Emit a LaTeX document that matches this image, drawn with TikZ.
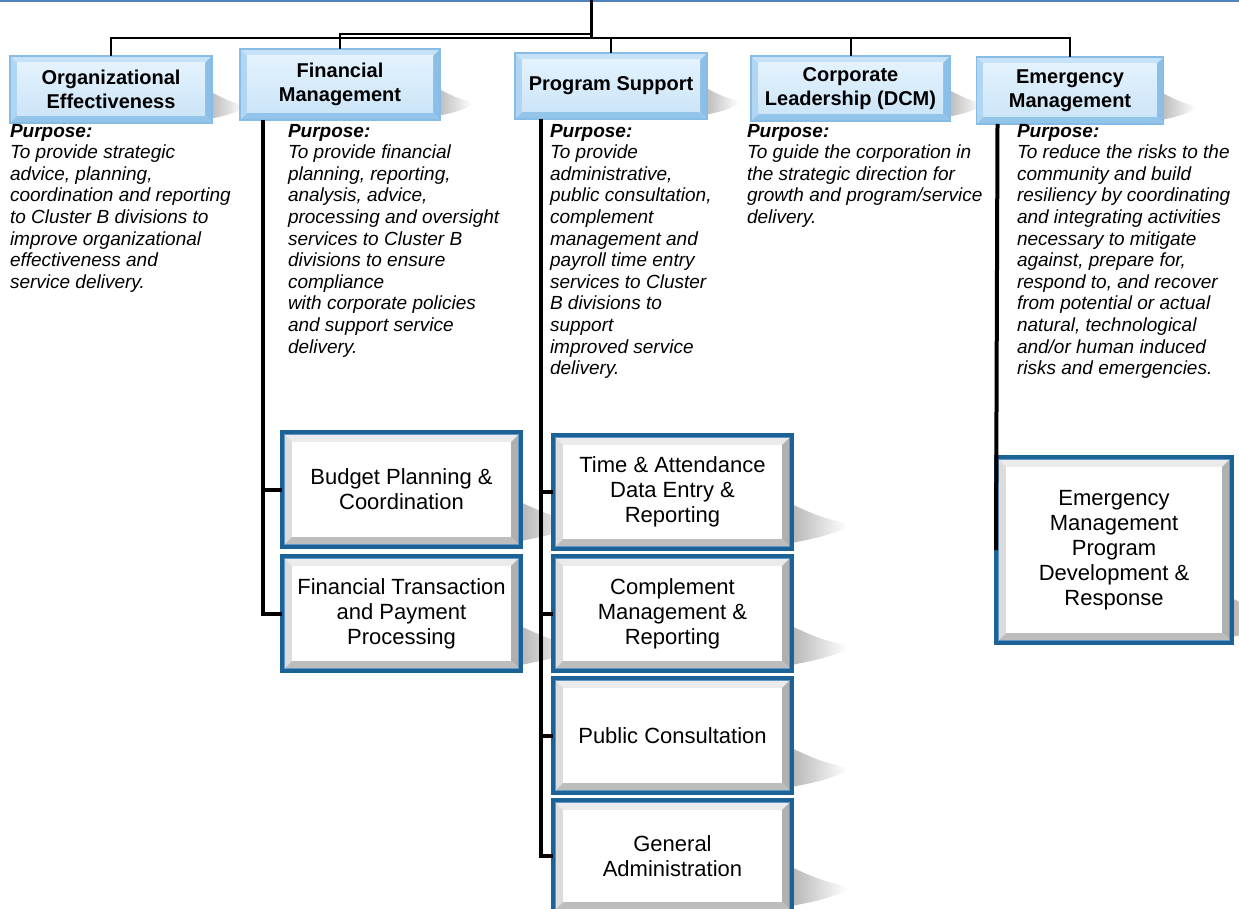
\documentclass[tikz,border=0pt]{standalone}
\usepackage{fontspec}
\setmainfont{Liberation Sans}
\usetikzlibrary{calc,backgrounds}
\definecolor{topline}{HTML}{4F82BE}
\definecolor{tbedge}{HTML}{86BCE6}
\definecolor{tbtop}{HTML}{C6E2F8}
\definecolor{tbleft}{HTML}{B0D6F3}
\definecolor{tbright}{HTML}{8CBFE8}
\definecolor{tbbot}{HTML}{93C4EA}
\definecolor{tbin1}{HTML}{E3F2FD}
\definecolor{tbin2}{HTML}{CCE5F8}
\definecolor{lbblue}{HTML}{1D6296}
\definecolor{lbinner}{HTML}{5E98C6}
\definecolor{bvtop}{HTML}{EBEBEB}
\definecolor{bvleft}{HTML}{DCDCDC}
\definecolor{bvright}{HTML}{B0B0B0}
\definecolor{bvbot}{HTML}{BDBDBD}
\tikzset{
  every node/.style={outer sep=0pt},
  topbox/.style={rectangle, draw=tbedge, line width=1.2pt, inner sep=0pt, align=center,
    font=\fontsize{20}{23.5}\selectfont\bfseries},
  lowbox/.style={rectangle, draw=lbblue, line width=4pt, inner sep=0pt, align=center,
    font=\fontsize{22}{25}\selectfont, minimum width=239pt},
  purp/.style={anchor=north west, inner sep=0pt, align=left,
    font=\fontsize{19}{21.6}\selectfont\itshape},
  busline/.style={line width=2pt, black},
  vline/.style={line width=4pt, black},
}
\newcommand\topbev[1]{%
  \path (#1.north west) coordinate (a) (#1.north east) coordinate (c)
        (#1.south east) coordinate (b) (#1.south west) coordinate (d);
  \fill[tbtop] (a) -- (c) -- ($(c)+(-7,7)$) -- ($(a)+(7,7)$) -- cycle;
  \fill[tbleft] (a) -- ($(a)+(7,7)$) -- ($(d)+(7,-7)$) -- (d) -- cycle;
  \fill[tbright] (c) -- (b) -- ($(b)+(-7,-7)$) -- ($(c)+(-7,7)$) -- cycle;
  \fill[tbbot] (d) -- (b) -- ($(b)+(-7,-7)$) -- ($(d)+(7,-7)$) -- cycle;
  \shade[top color=tbin1, bottom color=tbin2] ($(a)+(7,7)$) rectangle ($(b)+(-7,-7)$);
}
\newcommand\lowbev[1]{%
  \path (#1.north west) coordinate (a) (#1.north east) coordinate (c)
        (#1.south east) coordinate (b) (#1.south west) coordinate (d);
  \fill[bvtop] (a) -- (c) -- ($(c)+(-10,10)$) -- ($(a)+(10,10)$) -- cycle;
  \fill[bvleft] (a) -- ($(a)+(10,10)$) -- ($(d)+(10,-10)$) -- (d) -- cycle;
  \fill[bvright] (c) -- (b) -- ($(b)+(-10,-10)$) -- ($(c)+(-10,10)$) -- cycle;
  \fill[bvbot] (d) -- (b) -- ($(b)+(-10,-10)$) -- ($(d)+(10,-10)$) -- cycle;
  \fill[white] ($(a)+(10,10)$) rectangle ($(b)+(-10,-10)$);
  \draw[lbinner, line width=1.2pt] ($(a)+(2.6,2.6)$) rectangle ($(b)+(-2.6,-2.6)$);
}
\newcommand\swoosh[4]{%
  \shade[left color=black!#4, right color=white]
    ($(#1.south east)+(-3,-#3)$) .. controls ($(#1.south east)+(0.5*#2,-0.7*#3)$) ..
    ($(#1.south east)+(#2,-0.55*#3)$) -- ($(#1.south east)+(#2,-0.45*#3)$)
    .. controls ($(#1.south east)+(0.5*#2,-0.25*#3)$) .. ($(#1.south east)+(-3,-0.12*#3)$) -- cycle;
}
\begin{document}
\begin{tikzpicture}[x=1pt,y=-1pt]
\useasboundingbox (0,0) rectangle (1239,909);
\draw[topline, line width=2pt] (0,1) -- (1239,1);

% top level boxes
\node[topbox, minimum width=202pt, minimum height=67pt] (org) at (111,89.5) {Organizational\\Effectiveness};
\node[topbox, minimum width=200pt, minimum height=71pt] (fin) at (340,84.5) {Financial\\Management};
\node[topbox, minimum width=192pt, minimum height=66pt] (prog) at (611,86) {Program Support};
\node[topbox, minimum width=199pt, minimum height=65pt] (corp) at (850.5,88.5) {Corporate\\Leadership (DCM)};
\node[topbox, minimum width=187pt, minimum height=67pt] (emg) at (1070,90.5) {Emergency\\Management};

% top connectors
\coordinate (top) at (591,0);
\coordinate (bus) at (591,38);
\coordinate (finj) at (591,34);
\draw[line width=3pt] (top) -- (bus);
\draw[busline] (org.north) |- (bus);
\draw[busline] (emg.north) |- (bus);
\draw[busline] (prog.north) |- (bus);
\draw[busline] (corp.north) |- (bus);
\draw[busline] (fin.north) |- (finj);

% purpose texts
\node[purp] (p1) at (10,124) {{\bfseries Purpose:}\\To provide strategic\\advice, planning,\\coordination and reporting\\to Cluster B divisions to\\improve organizational\\effectiveness and\\service delivery.};
\node[purp] (p2) at (288,124) {{\bfseries Purpose:}\\To provide financial\\planning, reporting,\\analysis, advice,\\processing and oversight\\services to Cluster B\\divisions to ensure\\compliance\\with corporate policies\\and support service\\delivery.};
\node[purp] (p3) at (550,124) {{\bfseries Purpose:}\\To provide\\administrative,\\public consultation,\\complement\\management and\\payroll time entry\\services to Cluster\\B divisions to\\support\\improved service\\delivery.};
\node[purp] (p4) at (747,124) {{\bfseries Purpose:}\\To guide the corporation in\\the strategic direction for\\growth and program/service\\delivery.};
\node[purp] (p5) at (1017,124) {{\bfseries Purpose:}\\To reduce the risks to the\\community and build\\resiliency by coordinating\\and integrating activities\\necessary to mitigate\\against, prepare for,\\respond to, and recover\\from potential or actual\\natural, technological\\and/or human induced\\risks and emergencies.};

% lower boxes
\node[lowbox, minimum height=115pt] (bud) at (401.5,489.5) {Budget Planning \&\\Coordination};
\node[lowbox, minimum height=115pt] (ftr) at (401.5,613.5) {Financial Transaction\\and Payment\\Processing};
\node[lowbox, minimum height=114pt] (tim) at (672.5,492) {Time \& Attendance\\Data Entry \&\\Reporting};
\node[lowbox, minimum height=115pt] (com) at (672.5,613.5) {Complement\\Management \&\\Reporting};
\node[lowbox, minimum height=115pt] (pub) at (672.5,735.5) {Public Consultation};
\node[lowbox, minimum height=112pt] (gen) at (672.5,856) {General\\Administration};
\node[lowbox, minimum width=236pt, minimum height=186pt] (emp) at (1114,550) {Emergency\\Management\\Program\\Development \&\\Response};

% vertical connectors
\coordinate (fv) at ($(fin.south west)+(23,0)$);
\coordinate (pv) at ($(prog.south west)+(26,0)$);
\coordinate (ev) at ($(emg.south west)+(21,0)$);
\draw[vline] (fv) |- (bud.west);
\draw[vline] (fv) |- (ftr.west);
\draw[vline] (pv) |- (tim.west);
\draw[vline] (pv) |- (com.west);
\draw[vline] (pv) |- (pub.west);
\draw[vline] (pv) |- (gen.west);
\draw[vline] (ev) -- (emp.west);

\begin{scope}[on background layer]
  \foreach \n in {org,fin,prog,corp,emg} {\swoosh{\n}{32}{32}{28}}
  \foreach \n in {bud,ftr,tim,com,pub,gen,emp} {\swoosh{\n}{55}{46}{30}}
  \foreach \n in {org,fin,prog,corp,emg} {\topbev{\n}}
  \foreach \n in {bud,ftr,tim,com,pub,gen,emp} {\lowbev{\n}}
\end{scope}
\end{tikzpicture}
\end{document}
